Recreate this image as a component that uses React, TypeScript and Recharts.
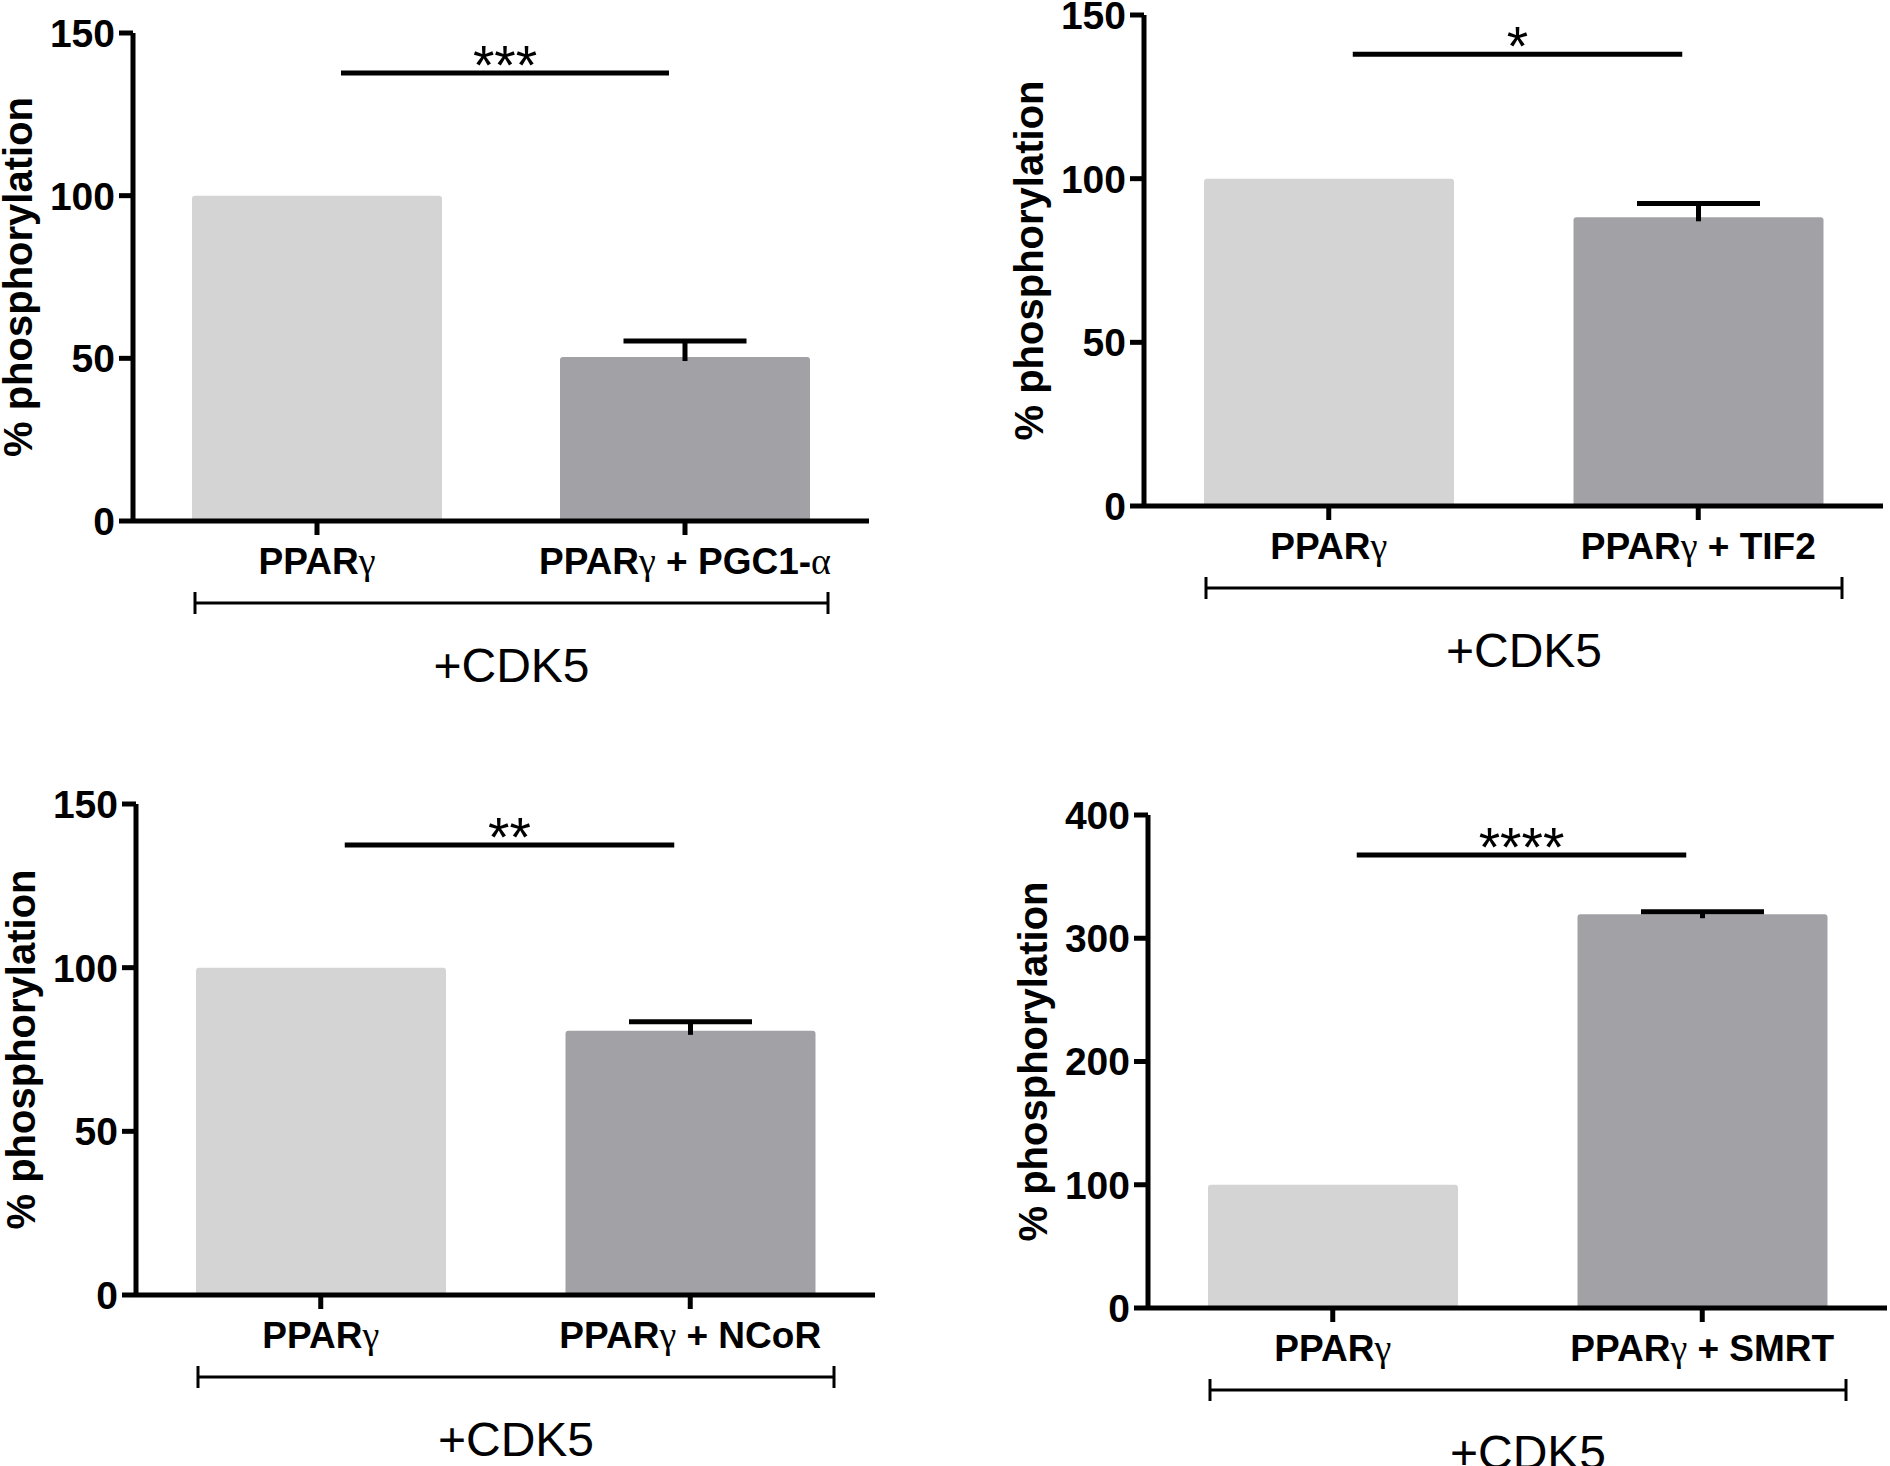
import React from "react";
import { BarChart, Bar, XAxis, YAxis, Cell, ReferenceLine } from "recharts";

const SANS = '"Liberation Sans", Arial, Helvetica, sans-serif';
const SERIF = '"Liberation Serif", "DejaVu Serif", serif';
const INK = "#000";
const BAR_COLORS = ["#d4d4d4", "#a2a1a6"];

// panel A: PGC1-α
const labelsA = ["PPARγ", "PPARγ + PGC1-α"];
const valuesA = [100, 50.4];
const semA = [null, 4.9];
const sigA = { y: 137.7, stars: "***" };

// panel B: TIF2
const labelsB = ["PPARγ", "PPARγ + TIF2"];
const valuesB = [100, 88.2];
const semB = [null, 4.2];
const sigB = { y: 138, stars: "*" };

// panel C: NCoR
const labelsC = ["PPARγ", "PPARγ + NCoR"];
const valuesC = [100, 80.7];
const semC = [null, 2.8];
const sigC = { y: 137.5, stars: "**" };

// panel D: SMRT
const labelsD = ["PPARγ", "PPARγ + SMRT"];
const valuesD = [100, 319.5];
const semD = [null, 2];
const sigD = { y: 367.5, stars: "****" };

const ticks150 = [0, 50, 100, 150];
const ticks400 = [0, 100, 200, 300, 400];

const Y_LABEL = "% phosphorylation";
const GROUP_LABEL = "+CDK5";

const toRows = (labels: string[], values: number[], sem: (number | null)[]) =>
  labels.map((name, i) => ({ name, value: values[i], err: sem[i] ?? 0 }));

function CatTick(props: any) {
  const { x, y, payload } = props;
  const parts = String(payload.value).split(/([γα])/).filter(Boolean);
  return (
    <text x={x} y={y} dy="0.71em" textAnchor="middle" fontFamily={SANS} fontWeight={700} fontSize={37} fill={INK}>
      {parts.map((p: string, i: number) =>
        p === "γ" || p === "α" ? (
          <tspan key={i} fontFamily={SERIF} fontWeight={400} fontSize={38}>
            {p}
          </tspan>
        ) : (
          <tspan key={i}>{p}</tspan>
        )
      )}
    </text>
  );
}

// upper half of the SEM bar, drawn on the stacked "err" segment
function Whisker(props: any) {
  const { x, y, width, height, payload } = props;
  if (!payload || !payload.err || x == null) return <g />;
  const cx = x + width / 2;
  return (
    <g>
      <line x1={cx} x2={cx} y1={y} y2={y + height + 4} stroke={INK} strokeWidth={5} />
      <line x1={cx - 61.5} x2={cx + 61.5} y1={y} y2={y} stroke={INK} strokeWidth={5} />
    </g>
  );
}

function Bracket(props: any) {
  const vb = props.viewBox || {};
  const x0 = (vb.x ?? 0) + 62;
  const x1 = (vb.x ?? 0) + (vb.width ?? 0) - 41;
  const y = (vb.y ?? 0) + 82;
  return (
    <g>
      <line x1={x0} x2={x1} y1={y} y2={y} stroke={INK} strokeWidth={3} />
      <line x1={x0} x2={x0} y1={y - 11} y2={y + 11} stroke={INK} strokeWidth={3} />
      <line x1={x1} x2={x1} y1={y - 11} y2={y + 11} stroke={INK} strokeWidth={3} />
      <text x={(x0 + x1) / 2} y={y + 79} textAnchor="middle" fontFamily={SANS} fontSize={48} fill={INK}>
        {GROUP_LABEL}
      </text>
    </g>
  );
}

function YTitle(props: any) {
  const vb = props.viewBox || {};
  const cx = (vb.x ?? 0) + 32;
  const cy = (vb.y ?? 0) + (vb.height ?? 0) / 2;
  return (
    <text
      x={cx}
      y={cy}
      transform={`rotate(-90 ${cx} ${cy})`}
      textAnchor="middle"
      fontFamily={SANS}
      fontWeight={700}
      fontSize={40}
      fill={INK}
    >
      {Y_LABEL}
    </text>
  );
}

function SigLine(stars: string) {
  return (p: any) => {
    if (p.x1 == null) return <g />;
    const a = p.x1 + 24;
    const b = p.x2 - 16;
    return (
      <g>
        <line x1={a} x2={b} y1={p.y1} y2={p.y2} stroke={INK} strokeWidth={5} />
        <text x={(a + b) / 2} y={p.y1 + 11} textAnchor="middle" fontFamily={SANS} fontSize={55} fill={INK}>
          {stars}
        </text>
      </g>
    );
  };
}

interface Layout {
  left: number;
  top: number;
  width: number;
  height: number;
  mTop: number;
  mRight: number;
  axisH: number;
}

function Panel({
  rows,
  yMax,
  yTicks,
  sig,
  box,
}: {
  rows: { name: string; value: number; err: number }[];
  yMax: number;
  yTicks: number[];
  sig: { y: number; stars: string };
  box: Layout;
}) {
  return (
    <div style={{ position: "absolute", left: box.left, top: box.top }}>
      <BarChart
        width={box.width}
        height={box.height}
        data={rows}
        margin={{ top: box.mTop, right: box.mRight, bottom: 0, left: 0 }}
      >
        <XAxis
          dataKey="name"
          height={box.axisH}
          stroke={INK}
          axisLine={{ stroke: INK, strokeWidth: 5 }}
          tickLine={{ stroke: INK, strokeWidth: 5 }}
          tickSize={14}
          tickMargin={13}
          tick={<CatTick />}
          interval={0}
          label={{ content: (p: any) => <Bracket {...p} /> }}
        />
        <YAxis
          width={133}
          domain={[0, yMax]}
          ticks={yTicks}
          interval={0}
          axisLine={{ stroke: INK, strokeWidth: 5 }}
          tickLine={{ stroke: INK, strokeWidth: 5 }}
          tickSize={14}
          tickMargin={4}
          tick={{ fill: INK, fontFamily: SANS, fontWeight: 700, fontSize: 39 }}
          label={{ content: (p: any) => <YTitle {...p} /> }}
        />
        <Bar dataKey="value" stackId="s" barSize={250} radius={[3, 3, 0, 0]} isAnimationActive={false}>
          {rows.map((r, i) => (
            <Cell key={r.name} fill={BAR_COLORS[i]} />
          ))}
        </Bar>
        <Bar dataKey="err" stackId="s" barSize={250} shape={<Whisker />} isAnimationActive={false} />
        <ReferenceLine
          segment={[
            { x: rows[0].name, y: sig.y },
            { x: rows[1].name, y: sig.y },
          ]}
          stroke={INK}
          strokeWidth={5}
          shape={SigLine(sig.stars)}
        />
      </BarChart>
    </div>
  );
}

export default function App() {
  return (
    <div
      style={{
        position: "absolute",
        left: 0,
        top: 0,
        width: 1890,
        height: 1466,
        background: "#fff",
        overflow: "hidden",
      }}
    >
      <Panel
        rows={toRows(labelsA, valuesA, semA)}
        yMax={150}
        yTicks={ticks150}
        sig={sigA}
        box={{ left: 0, top: 0, width: 900, height: 701, mTop: 33, mRight: 31, axisH: 180 }}
      />
      <Panel
        rows={toRows(labelsB, valuesB, semB)}
        yMax={150}
        yTicks={ticks150}
        sig={sigB}
        box={{ left: 1011, top: 0, width: 879, height: 686, mTop: 15, mRight: 7, axisH: 180 }}
      />
      <Panel
        rows={toRows(labelsC, valuesC, semC)}
        yMax={150}
        yTicks={ticks150}
        sig={sigC}
        box={{ left: 3, top: 733, width: 900, height: 733, mTop: 71, mRight: 28, axisH: 171 }}
      />
      <Panel
        rows={toRows(labelsD, valuesD, semD)}
        yMax={400}
        yTicks={ticks400}
        sig={sigD}
        box={{ left: 1015, top: 733, width: 875, height: 733, mTop: 82, mRight: 3, axisH: 158 }}
      />
    </div>
  );
}
